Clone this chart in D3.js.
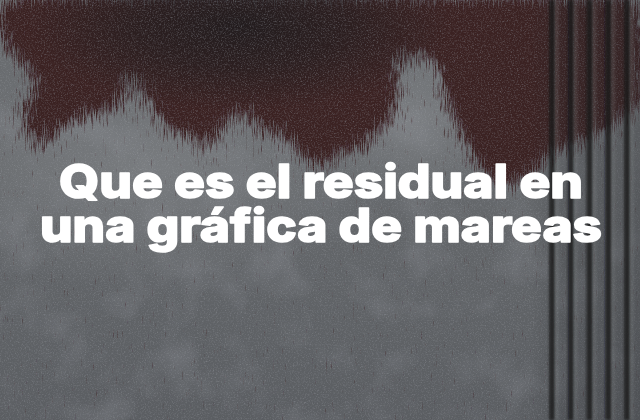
<!DOCTYPE html>
<html><head><meta charset="utf-8">
<script src="https://cdn.jsdelivr.net/npm/d3@7"></script>
<style>html,body{margin:0;padding:0;background:#65686b;overflow:hidden}</style>
</head><body>
<svg id="c" width="640" height="420"></svg>
<script>
// ---- content ----
const titleLines = ["Que es el residual en", "una gráfica de mareas"];
const stripeIndex = [0, 1, 2, 3, 4];
// ragged lower edge of the red paint (x, depth)
const paintEdgeX = [0, 20, 40, 60, 90, 110, 125, 140, 160, 190, 220, 235, 255, 280, 320, 350, 380, 395, 420, 440, 460, 490, 520, 545, 600, 640];
const paintEdgeY = [40, 65, 125, 135, 125, 95, 58, 68, 115, 145, 135, 85, 105, 145, 155, 145, 105, 58, 52, 88, 135, 160, 175, 150, 125, 125];

const W = 640, H = 420;
const svg = d3.select("#c");
const defs = svg.append("defs");
const full = f => f.attr("filterUnits", "userSpaceOnUse").attr("x", 0).attr("y", 0).attr("width", W).attr("height", H);

// gradients
const g1 = defs.append("linearGradient").attr("id", "base").attr("x1", 0).attr("y1", 0).attr("x2", 0).attr("y2", 1);
g1.append("stop").attr("offset", "0").attr("stop-color", "#6c6f72");
g1.append("stop").attr("offset", "0.45").attr("stop-color", "#65686b");
g1.append("stop").attr("offset", "1").attr("stop-color", "#5b5e62");

const rg = defs.append("radialGradient").attr("id", "light").attr("cx", 0.5).attr("cy", 0.5).attr("r", 0.5);
rg.append("stop").attr("offset", "0").attr("stop-color", "#86898c").attr("stop-opacity", 0.6);
rg.append("stop").attr("offset", "1").attr("stop-color", "#86898c").attr("stop-opacity", 0);

const rd = defs.append("radialGradient").attr("id", "darkTop").attr("cx", 0.5).attr("cy", 0.5).attr("r", 0.5);
rd.append("stop").attr("offset", "0").attr("stop-color", "#1f1c1e").attr("stop-opacity", 0.85);
rd.append("stop").attr("offset", "0.5").attr("stop-color", "#1f1c1e").attr("stop-opacity", 0.55);
rd.append("stop").attr("offset", "1").attr("stop-color", "#1f1c1e").attr("stop-opacity", 0);

const rs = defs.append("linearGradient").attr("id", "rightDark").attr("x1", 0).attr("y1", 0).attr("x2", 1).attr("y2", 0);
rs.append("stop").attr("offset", "0").attr("stop-color", "#2a2c30").attr("stop-opacity", 0.0);
rs.append("stop").attr("offset", "0.3").attr("stop-color", "#2a2c30").attr("stop-opacity", 0.2);
rs.append("stop").attr("offset", "1").attr("stop-color", "#2a2c30").attr("stop-opacity", 0.25);

// grainy paint filter: warped + blurred shape + noise, thresholded
const fp = full(defs.append("filter").attr("id", "paint"));
fp.append("feTurbulence").attr("type", "fractalNoise").attr("baseFrequency", "0.04 0.02").attr("numOctaves", 3).attr("seed", 5).attr("result", "w");
fp.append("feDisplacementMap").attr("in", "SourceGraphic").attr("in2", "w").attr("scale", 70)
  .attr("xChannelSelector", "R").attr("yChannelSelector", "G").attr("result", "sw");
fp.append("feGaussianBlur").attr("in", "sw").attr("stdDeviation", 13).attr("result", "b");
fp.append("feTurbulence").attr("type", "fractalNoise").attr("baseFrequency", "0.9 0.07").attr("numOctaves", 2).attr("seed", 3).attr("result", "t");
fp.append("feColorMatrix").attr("in", "t").attr("type", "matrix")
  .attr("values", "0 0 0 0 0  0 0 0 0 0  0 0 0 0 0  1 0 0 0 0").attr("result", "ta");
fp.append("feComposite").attr("in", "b").attr("in2", "ta").attr("operator", "arithmetic")
  .attr("k1", 0).attr("k2", 1).attr("k3", 1.0).attr("k4", -0.68).attr("result", "m");
const ct = fp.append("feComponentTransfer").attr("in", "m").attr("result", "mm");
ct.append("feFuncA").attr("type", "linear").attr("slope", 2.6).attr("intercept", -0.1);
fp.append("feFlood").attr("flood-color", "#3b2124").attr("result", "f");
fp.append("feComposite").attr("in", "f").attr("in2", "mm").attr("operator", "in");

// dark grain
const fn = full(defs.append("filter").attr("id", "noiseD"));
fn.append("feTurbulence").attr("type", "fractalNoise").attr("baseFrequency", 0.7).attr("numOctaves", 2).attr("seed", 7).attr("result", "n");
fn.append("feColorMatrix").attr("in", "n").attr("type", "matrix")
  .attr("values", "0 0 0 0 0.2  0 0 0 0 0.21  0 0 0 0 0.24  3 0 0 0 -1.55");
// light grain
const fl = full(defs.append("filter").attr("id", "noiseL"));
fl.append("feTurbulence").attr("type", "fractalNoise").attr("baseFrequency", 0.75).attr("numOctaves", 2).attr("seed", 19).attr("result", "n");
fl.append("feColorMatrix").attr("in", "n").attr("type", "matrix")
  .attr("values", "0 0 0 0 0.6  0 0 0 0 0.62  0 0 0 0 0.65  3 0 0 0 -1.6");

// blotches
const fb = full(defs.append("filter").attr("id", "blotch"));
fb.append("feTurbulence").attr("type", "fractalNoise").attr("baseFrequency", 0.02).attr("numOctaves", 3).attr("seed", 2).attr("result", "n");
fb.append("feColorMatrix").attr("in", "n").attr("type", "matrix")
  .attr("values", "0 0 0 0 0.28  0 0 0 0 0.29  0 0 0 0 0.32  -2.2 0 0 0 1.15");

defs.append("filter").attr("id", "soft").append("feGaussianBlur").attr("stdDeviation", 0.8);

// base
svg.append("rect").attr("width", W).attr("height", H).attr("fill", "url(#base)");
svg.append("ellipse").attr("cx", 150).attr("cy", 170).attr("rx", 240).attr("ry", 120).attr("fill", "url(#light)");
svg.append("ellipse").attr("cx", 415).attr("cy", 120).attr("rx", 100).attr("ry", 90).attr("fill", "url(#light)");
svg.append("rect").attr("width", W).attr("height", H).attr("filter", "url(#blotch)").attr("opacity", 0.35);

// red paint
const xs = d3.scaleLinear().domain([0, 640]).range([0, W]);
const ys = d3.scaleLinear().domain([0, 420]).range([0, H]);
const edge = paintEdgeX.map((x, i) => [x, paintEdgeY[i]]);
const area = d3.area().x(d => xs(d[0])).y0(-80).y1(d => ys(d[1])).curve(d3.curveCatmullRom);
const pg = svg.append("g");
pg.append("path").attr("d", area([[-60, 40], ...edge, [700, 125]])).attr("fill", "#888").attr("filter", "url(#paint)");
pg.append("ellipse").attr("cx", 240).attr("cy", 25).attr("rx", 210).attr("ry", 85).attr("fill", "url(#darkTop)");

// texture grain
svg.append("rect").attr("width", W).attr("height", H).attr("filter", "url(#noiseD)").attr("opacity", 0.45);
svg.append("rect").attr("width", W).attr("height", H).attr("filter", "url(#noiseL)").attr("opacity", 0.18);

// right vertical stripes
svg.append("rect").attr("x", 530).attr("width", 110).attr("height", H).attr("fill", "url(#rightDark)");
const sx = d3.scaleLinear().domain([0, 4]).range([550, 625]);
const st = svg.append("g").attr("filter", "url(#soft)");
st.selectAll("rect.l").data(stripeIndex).join("rect").attr("class", "l")
  .attr("x", d => sx(d) + 5).attr("y", 0).attr("width", 4).attr("height", H)
  .attr("fill", "#8c8f92").attr("opacity", 0.18);
st.selectAll("rect.d").data(stripeIndex).join("rect").attr("class", "d")
  .attr("x", d => sx(d) - 1).attr("y", 0).attr("width", 6).attr("height", H)
  .attr("fill", "#17181b").attr("opacity", 0.78);

// title (one text element, one tspan per line)
const fontSize = 46;
const lineBase = [198, 242];
const lineWidths = [524, 562];
const title = svg.append("text")
  .attr("text-anchor", "middle")
  .attr("font-family", "Inter, 'Open Sans', sans-serif")
  .attr("font-weight", 800)
  .attr("font-size", fontSize)
  .attr("fill", "#ffffff")
  .attr("stroke", "#ffffff")
  .attr("stroke-width", 1.6)
  .attr("stroke-linejoin", "round");
title.selectAll("tspan").data(titleLines).join("tspan")
  .attr("x", W / 2 + 1)
  .attr("y", (d, i) => lineBase[i])
  .attr("textLength", (d, i) => lineWidths[i])
  .attr("lengthAdjust", "spacingAndGlyphs")
  .text(d => d);
</script>
</body></html>
